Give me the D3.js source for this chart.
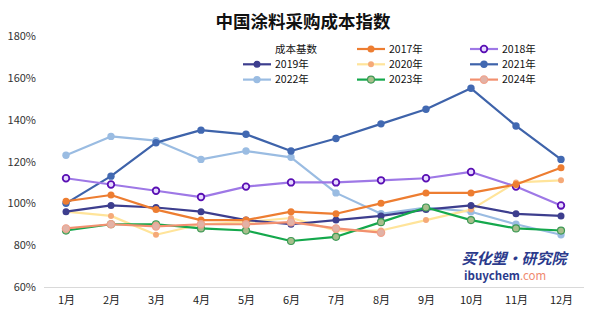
<!DOCTYPE html>
<html><head><meta charset="utf-8">
<script src="https://cdn.jsdelivr.net/npm/d3@7/dist/d3.min.js"></script>
<style>
html,body{margin:0;padding:0;background:#fff;}
text{font-family:"Noto Sans CJK SC","Microsoft YaHei",sans-serif;}
</style></head>
<body>
<svg id="chart" width="589" height="322"></svg>
<script>
const months = ["1月","2月","3月","4月","5月","6月","7月","8月","9月","10月","11月","12月"];
const yTicks = [60,80,100,120,140,160,180];
const seriesNames = ["成本基数","2017年","2018年","2019年","2020年","2021年","2022年","2023年","2024年"];
const v2017 = [101,104,97,92,92,96,95,100,105,105,109,117];
const v2018 = [112,109,106,103,108,110,110,111,112,115,108,99];
const v2019 = [96,99,98,96,92,90,92,94,97,99,95,94];
const v2020 = [96,94,85,90,91,93,87,87,92,97,110,111];
const v2021 = [100,113,129,135,133,125,131,138,145,155,137,121];
const v2022 = [123,132,130,121,125,122,105,95,98,96,90,85];
const v2023 = [87,90,90,88,87,82,84,91,98,92,88,87];
const v2024 = [88,90,89,90,90,91,88,86];

const styles = {
  "2017年":{line:"#ED7D31",fill:"#ED7D31",stroke:"#ED7D31",r:3.5,sw:0},
  "2018年":{line:"#9E78E6",fill:"#E6DAFF",stroke:"#5A10B4",r:3.3,sw:1.8},
  "2019年":{line:"#3D3E8E",fill:"#3D3E8E",stroke:"#3D3E8E",r:3.5,sw:0},
  "2020年":{line:"#FFE49A",fill:"#F5A978",stroke:"#F5A978",r:3,sw:0},
  "2021年":{line:"#3E63AA",fill:"#4269B2",stroke:"#4269B2",r:3.7,sw:0},
  "2022年":{line:"#9ABCE2",fill:"#9ABCE2",stroke:"#9ABCE2",r:3.7,sw:0},
  "2023年":{line:"#14A84C",fill:"#A8BE8C",stroke:"#3E9A55",r:3.5,sw:1.2},
  "2024年":{line:"#F2906F",fill:"#E2B2A6",stroke:"#EFA28C",r:3.7,sw:1.2}
};
const data = {
  "2017年":v2017,"2018年":v2018,"2019年":v2019,"2020年":v2020,
  "2021年":v2021,"2022年":v2022,"2023年":v2023,"2024年":v2024
};
const drawOrder = ["2022年","2021年","2020年","2019年","2018年","2017年","2023年","2024年"];

const svg = d3.select("#chart");
const x = d3.scalePoint().domain(months).range([43.5,583.5]).padding(0.5);
const y = d3.scaleLinear().domain([60,180]).range([287,36]);

// title
svg.append("text").attr("x",303).attr("y",28).attr("text-anchor","middle")
  .attr("font-size",17.5).attr("font-weight",700).attr("fill","#111")
  .text("中国涂料采购成本指数");

// y axis labels
const yAxis = d3.axisLeft(y).tickValues(yTicks).tickFormat(d=>d+"%").tickSize(0).tickPadding(0);
const gy = svg.append("g").attr("transform","translate(36,0)").call(yAxis);
gy.select(".domain").remove();
gy.selectAll("text").attr("font-size",11).attr("fill","#333")
  .style("font-family","'Noto Sans CJK SC',sans-serif");

// x axis
const xAxis = d3.axisBottom(x).tickSize(0).tickPadding(9);
const gx = svg.append("g").attr("transform","translate(0,287)").call(xAxis);
gx.select(".domain").attr("stroke","#D9D9D9").attr("stroke-width",1.2);
gx.selectAll("text").attr("font-size",11).attr("fill","#222")
  .style("font-family","'Noto Sans CJK SC',sans-serif");

// watermark
const wm = svg.append("g");
wm.append("text").attr("x",514).attr("y",264).attr("text-anchor","middle")
  .attr("font-size",15).attr("font-weight",700).attr("font-style","italic")
  .attr("fill","#2B3A8C").text("买化塑·研究院");
const wm2 = wm.append("text").attr("x",464).attr("y",280).attr("font-size",11.5)
  .attr("font-family","'DejaVu Sans',sans-serif");
wm2.append("tspan").attr("fill","#2B3A8C").attr("font-weight",700).text("ibuychem");
wm2.append("tspan").attr("fill","#F08A70").text(".com");

// lines
const line = d3.line().x((d,i)=>x(months[i])).y(d=>y(d));
drawOrder.forEach(name=>{
  const s = styles[name], vals = data[name];
  const g = svg.append("g");
  g.append("path").datum(vals).attr("d",line).attr("fill","none")
    .attr("stroke",s.line).attr("stroke-width",2.2).attr("stroke-linejoin","round");
  g.selectAll("circle").data(vals).join("circle")
    .attr("cx",(d,i)=>x(months[i])).attr("cy",d=>y(d)).attr("r",s.r)
    .attr("fill",s.fill).attr("stroke",s.stroke).attr("stroke-width",s.sw);
});

// legend
const legCols = [243,357,470];
const legRows = [49,64.3,79.6];
seriesNames.forEach((name,i)=>{
  const col = i%3, row = Math.floor(i/3);
  const lx = legCols[col], ly = legRows[row];
  const g = svg.append("g");
  if(styles[name]){
    const s = styles[name];
    g.append("line").attr("x1",lx).attr("x2",lx+28).attr("y1",ly).attr("y2",ly)
      .attr("stroke",s.line).attr("stroke-width",2.2);
    g.append("circle").attr("cx",lx+14).attr("cy",ly).attr("r",s.r)
      .attr("fill",s.fill).attr("stroke",s.stroke).attr("stroke-width",s.sw);
  }
  g.append("text").attr("x",lx+32).attr("y",ly+3.8).attr("font-size",10.5).attr("fill","#111")
    .text(name);
});
</script>
</body></html>
